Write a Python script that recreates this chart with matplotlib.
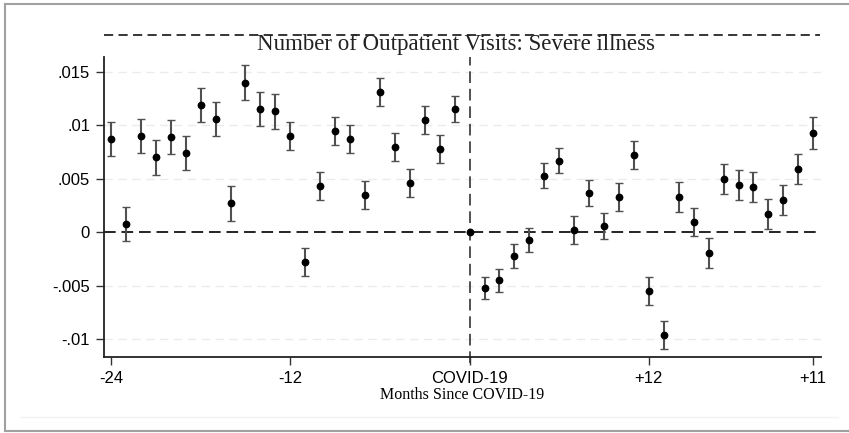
#!/usr/bin/env python3

import matplotlib
matplotlib.use('Agg')
import matplotlib.pyplot as plt
from matplotlib.lines import Line2D
import numpy as np

# Event-study estimates, months relative to COVID-19 onset (month 0 is the
# omitted reference period, so it has no interval).
months = list(range(-24, 24))

coefs = [
    0.0087, 0.0008, 0.0090, 0.0070, 0.0089, 0.0074, 0.0119, 0.0106,
    0.0027, 0.0140, 0.0115, 0.0113, 0.0090, -0.0028, 0.0043, 0.0095,
    0.0087, 0.0035, 0.0131, 0.0080, 0.0046, 0.0105, 0.0078, 0.0115,
    0.0000,
    -0.0052, -0.0045, -0.0022, -0.0007, 0.0053, 0.0067, 0.0002, 0.0037,
    0.0006, 0.0033, 0.0072, -0.0055, -0.0096, 0.0033, 0.0010, -0.0019,
    0.0050, 0.0044, 0.0042, 0.0017, 0.0030, 0.0059, 0.0093,
]

# half-width of the 95% interval
ci_half = [
    0.0016, 0.0016, 0.0016, 0.0016, 0.0016, 0.0016, 0.0016, 0.0016,
    0.0016, 0.0016, 0.0016, 0.0016, 0.0013, 0.0013, 0.0013, 0.0013,
    0.0013, 0.0013, 0.0013, 0.0013, 0.0013, 0.0013, 0.0013, 0.0012,
    0.0,
    0.0010, 0.0011, 0.0011, 0.0011, 0.0012, 0.0012, 0.0013, 0.0012,
    0.0012, 0.0013, 0.0013, 0.0013, 0.0013, 0.0014, 0.0013, 0.0014,
    0.0014, 0.0014, 0.0014, 0.0014, 0.0014, 0.0014, 0.0015,
]

x_ticks = [-24, -12, 0, 12, 23]
x_tick_labels = ['-24', '-12', 'COVID-19', '+12', '+11']
y_ticks = [-0.01, -0.005, 0, 0.005, 0.01, 0.015]
y_tick_labels = ['-.01', '-.005', '0', '.005', '.01', '.015']

title = 'Number of Outpatient Visits: Severe illness'
x_label = 'Months Since COVID-19'

SANS = ['Liberation Sans', 'DejaVu Sans']
SERIF = ['Liberation Serif', 'DejaVu Serif']

fig = plt.figure(figsize=(8.49, 4.33), dpi=100)
ax = fig.add_axes([0.1225, 0.1762, 0.8445, 0.6915])

x = np.array(months)
y = np.array(coefs)
err = np.array(ci_half)
has_ci = err > 0

ax.errorbar(x[has_ci], y[has_ci], yerr=err[has_ci], fmt='none',
            ecolor='#505050', elinewidth=1.5, capsize=3, capthick=1.0,
            zorder=3)
ax.plot(x, y, 'o', color='black', markersize=4.6, zorder=4)

# reference lines
ax.axhline(0, color='black', lw=1.2, dashes=(7, 3.5), zorder=2)
ax.axvline(0, color='#333333', lw=1.2, dashes=(7, 3.5), zorder=2,
           ymin=-0.02, clip_on=False)

for yv in y_ticks:
    if yv != 0:
        ax.axhline(yv, color='#ebebeb', lw=1.0, dashes=(6, 4), zorder=1)

ax.set_xlim(-24.47, 23.52)
ax.set_ylim(-0.01163, 0.01636)

ax.set_xticks(x_ticks)
ax.set_xticklabels(x_tick_labels, family=SANS, fontsize=12)
ax.set_yticks(y_ticks)
ax.set_yticklabels(y_tick_labels, family=SANS, fontsize=12)
ax.tick_params(direction='out', length=6, width=1.0, color='#333333',
               pad=4)

for side in ('top', 'right'):
    ax.spines[side].set_visible(False)
for side in ('left', 'bottom'):
    ax.spines[side].set_linewidth(1.3)
    ax.spines[side].set_color('#222222')

ax.set_xlabel(x_label, family=SERIF, fontsize=11.5, labelpad=1)

# title band: dashed rule with the title underneath
fig.add_artist(Line2D([0.1225, 0.966], [0.9185, 0.9185], color='black',
                      lw=1.1, dashes=(6, 3.5)))
fig.text(0.537, 0.8834, title, family=SERIF, fontsize=16.5, ha='center',
         va='baseline', color='#222222')

# outer graph frame
frame = dict(color='#a0a0a0', lw=1.5)
fig.add_artist(Line2D([0.006, 0.006], [0.004, 0.991], **frame))
fig.add_artist(Line2D([0.006, 1.0], [0.991, 0.991], **frame))
fig.add_artist(Line2D([0.006, 1.0], [0.004, 0.004], **frame))
fig.add_artist(Line2D([0.024, 0.987], [0.037, 0.037], color='#f2f2f2',
                      lw=1.0))

plt.savefig('out.png', dpi=100)
